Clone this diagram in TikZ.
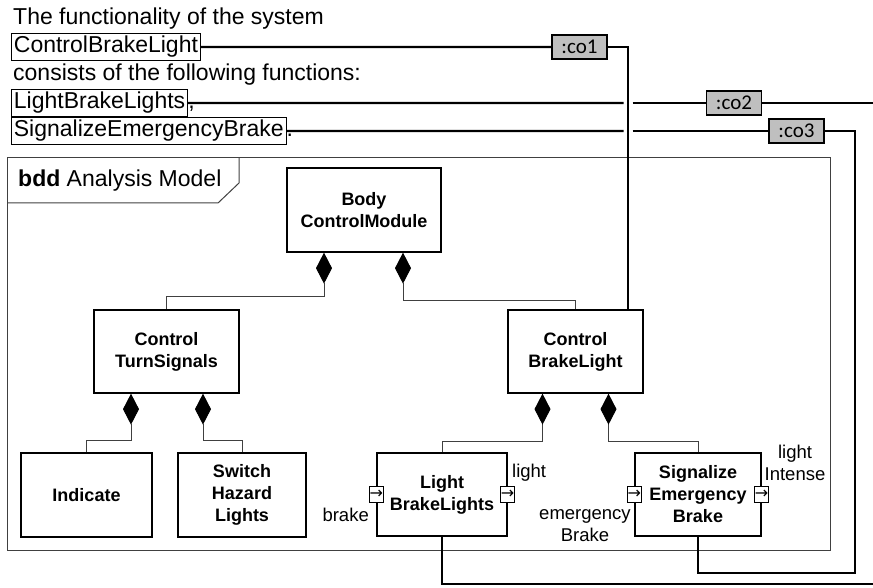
\documentclass[tikz,border=0pt]{standalone}
\usepackage{fontspec}
\setmainfont{Liberation Sans}
\newfontfamily\calibri{Carlito}
\newfontfamily\symb{DejaVu Sans}
\usetikzlibrary{arrows.meta}

\begin{document}
\begin{tikzpicture}[x=1pt, y=-1pt, block/.style 2 args={draw, line width=1.3pt, minimum width=#1pt, minimum height=#2pt, align=center, inner sep=0pt, font=\fontsize{18}{22}\selectfont\bfseries}, port/.style={draw, fill=white, line width=0.9pt, minimum width=14pt, minimum height=16pt, inner sep=0pt, font=\fontsize{16}{16}\symb}, plabel/.style={align=center, inner sep=0pt, font=\fontsize{18.5}{22}\selectfont}, txt/.style={anchor=base west, inner sep=0pt, font=\fontsize{23}{28}\selectfont}, txtbox/.style={txt, draw, line width=0.8pt, inner sep=2.5pt}, co/.style={draw, fill=gray!50, line width=1.8pt, minimum width=55pt, minimum height=24pt, inner sep=0pt, font=\fontsize{21}{21}\calibri}, conn/.style={line width=2.2pt}, comp/.style={draw=black!75, line width=1pt, -{Diamond[length=31pt, width=16pt, color=black]}}, frame/.style={draw=black!75, line width=1pt}]
\useasboundingbox (0,0) rectangle (873,588);
\node[txt] (t1) at (13,25) {The functionality of the system};
\node[txtbox] (tcbl) at (11,53) {ControlBrakeLight};
\node[txt] (t2) at (13,81) {consists of the following functions:};
\node[txtbox] (tlbl) at (11,109) {LightBrakeLights};
\node[txt] (comma) at (tlbl.base east) {,};
\node[txtbox] (tseb) at (11,137) {SignalizeEmergencyBrake};
\node[txt] (dot) at (tseb.base east) {.};
\node[co] (co1) at (579.5,47) {:co1};
\node[co] (co2) at (734,103) {:co2};
\node[co] (co3) at (796.5,131) {:co3};
\draw[frame] (7,158) rectangle (830,550);
\draw[frame] (7,203) -- (218,203) -- (239,183) -- (239,158);
\node[txt] (title) at (18,187) {\textbf{bdd} Analysis Model};
\node[block={154}{84}] (bcm) at (364,210) {Body\\ControlModule};
\node[block={145}{83}] (ts) at (166.5,351.5) {Control\\TurnSignals};
\node[block={135}{83}] (cbl) at (575.5,351.5) {Control\\BrakeLight};
\node[block={131}{84}] (ind) at (86.5,495) {Indicate};
\node[block={128}{84}] (shw) at (242,495) {Switch\\Hazard\\Lights};
\node[block={130}{83}] (lbl) at (442,494.5) {Light\\BrakeLights};
\node[block={126}{83}] (seb) at (698,494.5) {Signalize\\Emergency\\Brake};
\node[port] (lblin) at (lbl.west) {→};
\node[port] (lblout) at (lbl.east) {→};
\node[port] (sebin) at (seb.west) {→};
\node[port] (sebout) at (seb.east) {→};
\node[plabel, anchor=east] (brake) at (369,515) {brake};
\node[plabel, anchor=west] (light) at (512,473) {light};
\node[plabel] (emerg) at (585,526) {emergency\\Brake};
\node[plabel] (intense) at (795,463) {light\\Intense};
\coordinate (x1) at ([xshift=52.5pt]cbl.north);
\coordinate (g2l) at (623.5,103);
\coordinate (g2r) at (632.5,103);
\coordinate (g3l) at (623.5,131);
\coordinate (g3r) at (632.5,131);
\coordinate (e2) at (873,103);
\coordinate (e4) at (873,584);
\coordinate (c3) at (855,573);
\draw[comp] (ts.north) -- ++(0,-13) -| ([xshift=-40pt]bcm.south);
\draw[comp] (cbl.north) -- ++(0,-9) -| ([xshift=39pt]bcm.south);
\draw[comp] (ind.north) -- ++(0,-12) -| ([xshift=-35.5pt]ts.south);
\draw[comp] (shw.north) -- ++(0,-12) -| ([xshift=36.5pt]ts.south);
\draw[comp] (lbl.north) -- ++(0,-11) -| ([xshift=-33pt]cbl.south);
\draw[comp] (seb.north) -- ++(0,-11) -| ([xshift=33pt]cbl.south);
\draw[conn] (tcbl.east) -- (co1.west);
\draw[conn] (co1.east) -| (x1);
\draw[conn] (tlbl.east) -- (g2l);
\draw[conn] (g2r) -- (co2.west);
\draw[conn] (co2.east) -- (e2);
\draw[conn] (tseb.east) -- (g3l);
\draw[conn] (g3r) -- (co3.west);
\draw[conn] (co3.east) -| (c3) -| (seb.south);
\draw[conn] (lbl.south) |- (e4);
\end{tikzpicture}
\end{document}
